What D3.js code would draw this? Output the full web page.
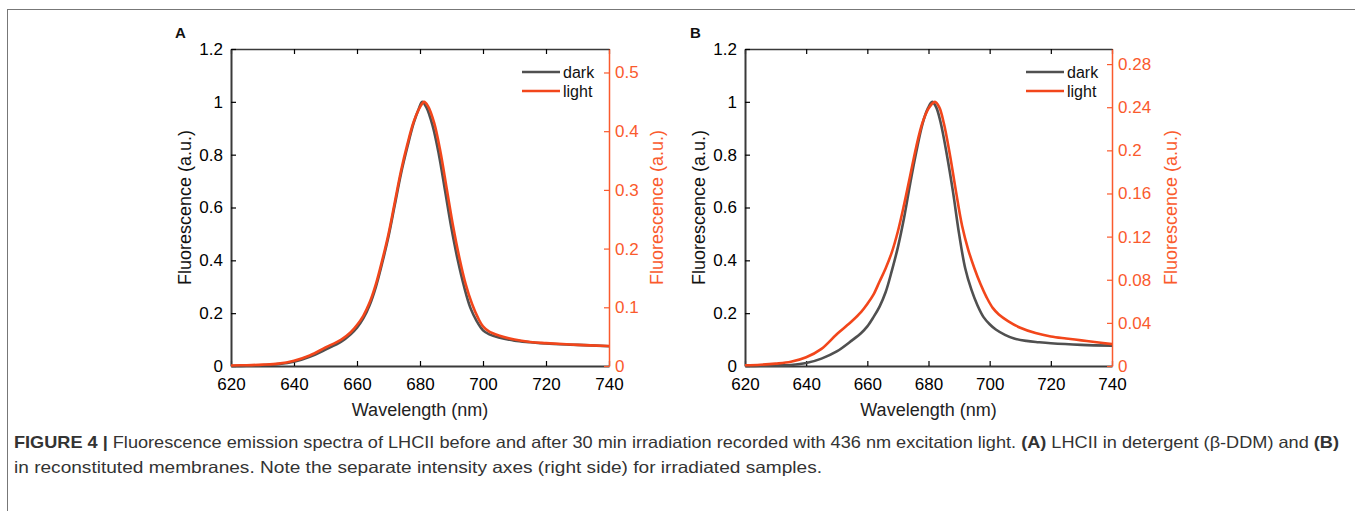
<!DOCTYPE html>
<html>
<head>
<meta charset="utf-8">
<script src="https://d3js.org/d3.v7.min.js"></script>
<style>
  body { margin: 0; background: #fff; }
  svg { font-family: "Liberation Sans", Arial, sans-serif; }
</style>
</head>
<body>
<svg id="fig" width="1355" height="511"></svg>
<script>
// wavelength (nm) / fluorescence pairs
// dark: left axis (normalised); light: right axis units
const darkA_nm  = [620,625,630,635,640,645,650,655,658,660,662,664,666,668,670,672,674,676,678,679.5,680.7,682,684,686,688,690,692,694,696,698,700,702,705,710,715,720,730,740];
const darkA_val = [0,0.001,0.003,0.007,0.016,0.035,0.062,0.092,0.12,0.145,0.18,0.23,0.3,0.39,0.49,0.61,0.73,0.83,0.92,0.97,1.0,0.98,0.91,0.8,0.66,0.52,0.4,0.3,0.22,0.17,0.135,0.12,0.108,0.096,0.09,0.085,0.08,0.075];
const lightA_nm  = [620,625,630,635,640,645,650,655,658,660,662,664,666,668,670,672,674,676,678,680,681.3,682.5,684.5,686.5,688.5,690.5,692.5,694.5,696.5,698.5,700,702,705,710,715,720,730,740];
const lightA_val = [0.0009,0.0014,0.0023,0.004,0.009,0.018,0.0315,0.045,0.0576,0.0698,0.0855,0.108,0.1395,0.18,0.225,0.279,0.333,0.378,0.416,0.441,0.45,0.443,0.414,0.3645,0.3015,0.2385,0.1845,0.1395,0.106,0.081,0.0675,0.0585,0.052,0.045,0.041,0.039,0.036,0.034];

const darkB_nm  = [620,625,630,635,640,645,650,655,658,660,662,664,666,668,670,672,674,676,678,679.8,681.2,682.5,684,686,688,690,692,694,696,698,700,702,705,708,712,716,720,730,740];
const darkB_val = [0,0.001,0.002,0.004,0.011,0.028,0.055,0.097,0.125,0.15,0.185,0.225,0.28,0.36,0.45,0.56,0.69,0.81,0.915,0.975,1.0,0.98,0.92,0.8,0.66,0.5,0.37,0.29,0.23,0.185,0.158,0.138,0.118,0.104,0.095,0.09,0.086,0.08,0.077];
const lightB_nm  = [620,625,630,635,640,645,650,655,658,660,662,664,666,668,670,672,674,676,678,680,682.1,683.5,685,687,689,691,693,695,697,699,701,703,706,710,715,720,725,730,735,740];
const lightB_val = [0.0007,0.0012,0.0022,0.0039,0.0081,0.0159,0.0294,0.0417,0.0502,0.0576,0.0662,0.0784,0.0907,0.1054,0.125,0.1495,0.1764,0.2034,0.2254,0.2389,0.245,0.2401,0.2254,0.196,0.1617,0.1299,0.1078,0.0907,0.076,0.0637,0.0539,0.0478,0.0417,0.0355,0.0306,0.0274,0.0255,0.0238,0.0221,0.0203];

const xTicks = [620,640,660,680,700,720,740];
const yTicks = [0,0.2,0.4,0.6,0.8,1,1.2];
const rTicksA = [0,0.1,0.2,0.3,0.4,0.5];
const rTicksB = [0,0.04,0.08,0.12,0.16,0.2,0.24,0.28];

const DARK = "#505050", LIGHT = "#f2461b", ORANGE = "#fa5a2d", AXIS = "#3a3a3a";

const svg = d3.select("#fig");

// figure frame (top and left only)
svg.append("line").attr("x1", 7).attr("x2", 1355).attr("y1", 9.5).attr("y2", 9.5)
  .attr("stroke", "#777").attr("stroke-width", 1);
svg.append("line").attr("x1", 7.5).attr("x2", 7.5).attr("y1", 9).attr("y2", 511)
  .attr("stroke", "#777").attr("stroke-width", 1);

function panel(opt) {
  const x = d3.scaleLinear().domain([620, 740]).range([opt.left, opt.right]);
  const y = d3.scaleLinear().domain([0, 1.2]).range([366, 49]);
  const yr = d3.scaleLinear().domain([0, opt.rMax]).range([366, 49]);
  const g = svg.append("g");

  // box axes, ticks pointing inward
  g.append("g").attr("transform", "translate(0,366)")
    .call(d3.axisBottom(x).tickValues(xTicks).tickSizeInner(-5).tickSizeOuter(0).tickPadding(12))
    .call(a => a.select(".domain").attr("stroke", AXIS).attr("stroke-width", 2));
  g.append("g").attr("transform", "translate(0,49)")
    .call(d3.axisTop(x).tickValues(xTicks).tickSizeInner(-5).tickSizeOuter(0).tickFormat(""))
    .call(a => a.select(".domain").attr("stroke", AXIS).attr("stroke-width", 1.5));
  g.append("g").attr("transform", `translate(${opt.left},0)`)
    .call(d3.axisLeft(y).tickValues(yTicks).tickSizeInner(-5).tickSizeOuter(0).tickPadding(8)
      .tickFormat(d3.format("~g")))
    .call(a => a.select(".domain").attr("stroke", AXIS).attr("stroke-width", 2));
  const ra = g.append("g").attr("transform", `translate(${opt.right},0)`)
    .call(d3.axisRight(yr).tickValues(opt.rTicks).tickSizeInner(-5).tickSizeOuter(0).tickPadding(6)
      .tickFormat(d3.format("~g")));
  ra.select(".domain").attr("stroke", ORANGE).attr("stroke-width", 1.5);
  ra.selectAll(".tick line").attr("stroke", ORANGE);
  ra.selectAll(".tick text").attr("fill", ORANGE);

  g.selectAll(".tick text").attr("font-size", 17).attr("font-family", "Liberation Sans, Arial, sans-serif");
  g.selectAll(".tick line").attr("stroke-width", 1.2);

  // curves
  const line = d3.line().curve(d3.curveCatmullRom.alpha(0.5));
  g.append("path")
    .attr("d", line(opt.darkNm.map((d, i) => [x(d), y(opt.darkVal[i])])))
    .attr("fill", "none").attr("stroke", DARK).attr("stroke-width", 2.6);
  g.append("path")
    .attr("d", line(opt.lightNm.map((d, i) => [x(d), yr(opt.lightVal[i])])))
    .attr("fill", "none").attr("stroke", LIGHT).attr("stroke-width", 2.6);

  // legend
  const lx = opt.legendX;
  [["dark", DARK, 72], ["light", LIGHT, 91]].forEach(([t, c, ly]) => {
    g.append("line").attr("x1", lx).attr("x2", lx + 38).attr("y1", ly).attr("y2", ly)
      .attr("stroke", c).attr("stroke-width", 2.6);
    g.append("text").attr("x", lx + 41).attr("y", ly + 5.5).attr("font-size", 16).attr("fill", "#111").text(t);
  });

  // axis titles
  g.append("text").attr("x", (opt.left + opt.right) / 2).attr("y", 416)
    .attr("text-anchor", "middle").attr("font-size", 18).attr("fill", "#222").text("Wavelength (nm)");
  g.append("text").attr("transform", `translate(${opt.left - 40},207.5) rotate(-90)`)
    .attr("text-anchor", "middle").attr("font-size", 18).attr("fill", "#111").text("Fluorescence (a.u.)");
  g.append("text").attr("transform", `translate(${opt.rLabelX},207.5) rotate(-90)`)
    .attr("text-anchor", "middle").attr("font-size", 18).attr("fill", ORANGE).text("Fluorescence (a.u.)");

  g.append("text").attr("x", opt.letterX).attr("y", 38).attr("font-size", 15).attr("font-weight", "bold")
    .attr("fill", "#111").text(opt.letter);
}

panel({ letter: "A", letterX: 175, left: 231, right: 609, rMax: 0.54, rTicks: rTicksA,
  darkNm: darkA_nm, darkVal: darkA_val, lightNm: lightA_nm, lightVal: lightA_val,
  legendX: 522, rLabelX: 663 });
panel({ letter: "B", letterX: 690, left: 745, right: 1112, rMax: 0.294, rTicks: rTicksB,
  darkNm: darkB_nm, darkVal: darkB_val, lightNm: lightB_nm, lightVal: lightB_val,
  legendX: 1026, rLabelX: 1177 });

// caption
const cap = svg.append("g").attr("font-family", "Liberation Sans, Arial, sans-serif")
  .attr("font-size", 16.5).attr("fill", "#333");
const l1 = cap.append("text").attr("x", 14).attr("y", 448)
  .attr("textLength", 1325).attr("lengthAdjust", "spacingAndGlyphs");
l1.append("tspan").attr("font-weight", "bold").text("FIGURE 4 | ");
l1.append("tspan").text("Fluorescence emission spectra of LHCII before and after 30 min irradiation recorded with 436 nm excitation light. ");
l1.append("tspan").attr("font-weight", "bold").text("(A)");
l1.append("tspan").text(" LHCII in detergent (β-DDM) and ");
l1.append("tspan").attr("font-weight", "bold").text("(B)");
cap.append("text").attr("x", 14).attr("y", 473)
  .attr("textLength", 808).attr("lengthAdjust", "spacingAndGlyphs")
  .text("in reconstituted membranes. Note the separate intensity axes (right side) for irradiated samples.");
</script>
</body>
</html>
